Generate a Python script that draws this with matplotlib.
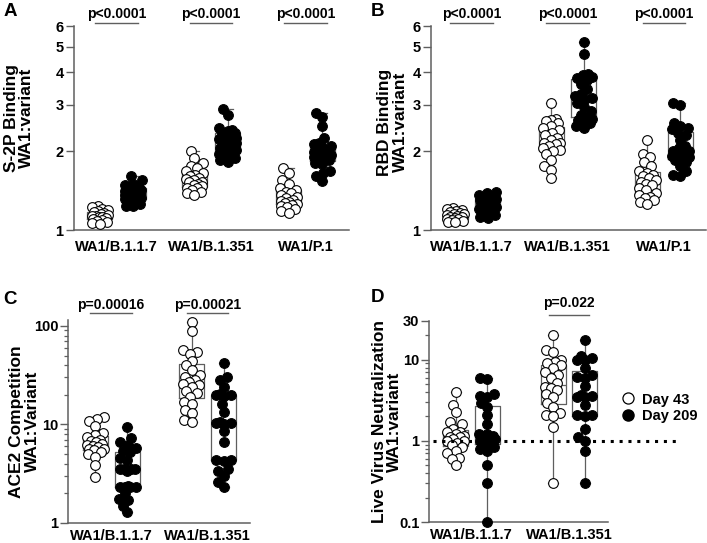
import numpy as np
import matplotlib
matplotlib.use('Agg')
import matplotlib.pyplot as plt
from matplotlib.lines import Line2D
from matplotlib.ticker import FixedLocator, FixedFormatter, LogLocator, NullFormatter
import matplotlib.transforms as mtransforms

plt.rcParams['font.family'] = ['Liberation Sans', 'DejaVu Sans']
plt.rcParams['font.weight'] = 'bold'

# ---------------- data ----------------
variants_abc = ['WA1/B.1.1.7', 'WA1/B.1.351', 'WA1/P.1']
variants_d = ['WA1/B.1.1.7', 'WA1/B.1.351']
legend_labels = ['Day 43', 'Day 209']

# Panel A: S-2P binding
s2p_d43_b117 = [1.24, 1.22, 1.2, 1.19, 1.18, 1.17, 1.16, 1.15, 1.14, 1.13, 1.13, 1.12, 1.12, 1.11, 1.1, 1.09, 1.08, 1.07, 1.06, 1.05]
s2p_d209_b117 = [1.6, 1.55, 1.5, 1.48, 1.47, 1.45, 1.44, 1.42, 1.41, 1.4, 1.39, 1.38, 1.37, 1.36, 1.35, 1.34, 1.33, 1.32, 1.31, 1.3, 1.28, 1.26, 1.24, 1.23]
s2p_d43_b1351 = [2.0, 1.88, 1.8, 1.75, 1.72, 1.68, 1.65, 1.62, 1.6, 1.58, 1.56, 1.55, 1.53, 1.52, 1.5, 1.48, 1.47, 1.45, 1.44, 1.42, 1.4, 1.38, 1.36]
s2p_d209_b1351 = [2.9, 2.75, 2.45, 2.4, 2.38, 2.35, 2.33, 2.3, 2.28, 2.25, 2.22, 2.2, 2.18, 2.15, 2.1, 2.05, 2.02, 2.0, 1.97, 1.95, 1.9, 1.88, 1.85, 1.82]
s2p_d43_p1 = [1.73, 1.65, 1.55, 1.5, 1.45, 1.42, 1.4, 1.38, 1.36, 1.34, 1.32, 1.3, 1.29, 1.28, 1.27, 1.26, 1.25, 1.24, 1.22, 1.2, 1.18, 1.16]
s2p_d209_p1 = [2.8, 2.7, 2.5, 2.25, 2.15, 2.12, 2.1, 2.08, 2.05, 2.02, 2.0, 1.98, 1.96, 1.94, 1.92, 1.9, 1.88, 1.85, 1.8, 1.78, 1.68, 1.65, 1.6, 1.54]

# Panel B: RBD binding
rbd_d43_b117 = [1.21, 1.2, 1.19, 1.18, 1.17, 1.16, 1.15, 1.15, 1.14, 1.13, 1.12, 1.12, 1.11, 1.1, 1.1, 1.09, 1.08, 1.07, 1.07]
rbd_d209_b117 = [1.4, 1.38, 1.36, 1.35, 1.33, 1.32, 1.31, 1.3, 1.29, 1.28, 1.27, 1.26, 1.25, 1.24, 1.23, 1.22, 1.2, 1.18, 1.16, 1.14, 1.12, 1.11]
rbd_d43_b1351 = [3.05, 2.65, 2.62, 2.6, 2.55, 2.5, 2.45, 2.4, 2.35, 2.3, 2.25, 2.2, 2.15, 2.15, 2.12, 2.1, 2.05, 2.02, 2.0, 1.95, 1.85, 1.75, 1.7, 1.58]
rbd_d209_b1351 = [5.2, 4.7, 3.95, 3.9, 3.85, 3.8, 3.75, 3.6, 3.45, 3.3, 3.25, 3.2, 3.15, 3.05, 2.95, 2.85, 2.75, 2.7, 2.65, 2.62, 2.6, 2.55, 2.5, 2.45]
rbd_d43_p1 = [2.2, 1.95, 1.9, 1.82, 1.75, 1.68, 1.65, 1.62, 1.6, 1.58, 1.55, 1.52, 1.5, 1.48, 1.45, 1.42, 1.38, 1.36, 1.34, 1.32, 1.3, 1.28, 1.26]
rbd_d209_p1 = [3.05, 3.0, 2.55, 2.5, 2.45, 2.42, 2.35, 2.3, 2.2, 2.1, 2.05, 2.0, 2.0, 1.98, 1.95, 1.92, 1.9, 1.88, 1.85, 1.82, 1.75, 1.68, 1.62, 1.6]

# Panel C: ACE2 competition
ace2_d43_b117 = [12.0, 11.5, 10.8, 9.6, 8.2, 7.8, 7.4, 7.0, 6.8, 6.6, 6.4, 6.2, 6.0, 5.9, 5.7, 5.6, 5.5, 5.3, 5.0, 4.7, 3.9, 2.95]
ace2_d209_b117 = [9.4, 7.3, 6.6, 6.2, 5.8, 5.4, 5.2, 4.6, 4.4, 3.5, 3.5, 3.5, 3.5, 3.4, 2.4, 2.3, 2.3, 2.3, 2.3, 2.0, 1.75, 1.7, 1.5, 1.3]
ace2_d43_b1351 = [110, 88, 57, 55, 52, 44, 40, 36, 32, 30, 28, 27, 26, 25, 24, 22, 21, 19, 17, 16, 14, 13, 11, 10.7]
ace2_d209_b1351 = [42, 30, 28, 24, 20.5, 20, 20, 19.5, 16, 13.5, 10.5, 10.4, 10.3, 10.2, 8.5, 6.7, 4.4, 4.4, 4.3, 3.5, 3.4, 3.0, 2.6, 2.3]

# Panel D: live virus neutralization
neut_d43_b117 = [4.0, 2.8, 2.3, 1.7, 1.6, 1.4, 1.3, 1.3, 1.2, 1.15, 1.1, 1.1, 1.05, 1.0, 1.0, 0.95, 0.9, 0.85, 0.75, 0.7, 0.62, 0.6, 0.5]
neut_d209_b117 = [5.9, 5.8, 3.8, 3.6, 3.5, 2.9, 2.6, 2.1, 1.6, 1.2, 1.2, 1.15, 1.1, 1.1, 1.1, 1.05, 1.0, 0.95, 0.85, 0.8, 0.75, 0.5, 0.3, 0.1]
neut_d43_b1351 = [20, 13, 12.5, 10, 9.5, 9, 8.5, 8, 7, 6.5, 6, 5.2, 4.6, 4.5, 4.2, 3.8, 3.5, 2.9, 2.6, 2.2, 2.1, 2.0, 1.5, 0.3]
neut_d209_b1351 = [17.7, 11, 10.5, 10, 10, 8, 6.5, 6.2, 6.0, 4.7, 3.7, 3.6, 3.5, 3.5, 2.8, 2.1, 2.1, 2.0, 1.4, 1.1, 1.0, 0.74, 0.3]

pvals_a = ['p<0.0001', 'p<0.0001', 'p<0.0001']
pvals_b = ['p<0.0001', 'p<0.0001', 'p<0.0001']
pvals_c = ['p=0.00016', 'p=0.00021']
pvals_d = [None, 'p=0.022']

# ---------------- style ----------------
W, H = 707, 543
fig = plt.figure(figsize=(W / 100, H / 100), dpi=100)
GRAY = '#5f5f5f'
MS = 7.0  # marker size in points
PX = 0.72  # points per pixel


def px_axes(left, top, right, bottom):
    return fig.add_axes([left / W, 1 - bottom / H, (right - left) / W, (bottom - top) / H])


def swarm(ax, values, center, d=7.5, maxoff=8.5):
    vals = np.asarray(values, float)
    pts = ax.transData.transform(np.column_stack([np.full(len(vals), center), vals]))
    xc = pts[0, 0]
    ys = pts[:, 1]
    order = np.argsort(ys)
    cands = np.arange(-maxoff, maxoff + 0.01, 0.5)
    cands = cands[np.argsort(np.abs(cands), kind='stable')]
    placed = []
    offs = np.zeros(len(vals))
    for i in order:
        y = ys[i]
        best, bestd = 0.0, -1
        for off in cands:
            if placed:
                md = min(np.hypot(off - px, y - py) for px, py in placed)
            else:
                md = 1e9
            if md >= d:
                best = off
                break
            if md > bestd + 0.3:
                best, bestd = off, md
        placed.append((best, y))
        offs[i] = best
    inv = ax.transData.inverted()
    return inv.transform(np.column_stack([xc + offs, ys]))[:, 0]


def panel(ax, d43, d209, labels, pvals, ylim, xlim, spacing, off, major, majlabels,
          minor=False, text_up=12, line_up=3, xpad=6, ticklen=5.5):
    ax.set_yscale('log')
    ax.set_ylim(*ylim)
    ax.set_xlim(*xlim)
    for s in ['top', 'right']:
        ax.spines[s].set_visible(False)
    for s in ['left', 'bottom']:
        ax.spines[s].set_color(GRAY)
        ax.spines[s].set_linewidth(1.1)
    ax.yaxis.set_major_locator(FixedLocator(major))
    ax.yaxis.set_major_formatter(FixedFormatter(majlabels))
    if minor:
        ax.yaxis.set_minor_locator(LogLocator(base=10, subs=np.arange(2, 10)))
    else:
        ax.yaxis.set_minor_locator(FixedLocator([]))
    ax.yaxis.set_minor_formatter(NullFormatter())
    ax.tick_params(axis='y', which='major', length=ticklen, width=1.0, color=GRAY,
                   labelsize=10.5, pad=1.5)
    ax.tick_params(axis='y', which='minor', length=3, width=0.9, color=GRAY)
    ax.set_xticks(range(len(labels)))
    ax.set_xticklabels(labels)
    ax.tick_params(axis='x', length=0, labelsize=10.5, pad=xpad)

    boxw = 25 / spacing
    capw = 10 / spacing
    for i in range(len(labels)):
        for j, (data, face) in enumerate([(d43[i], 'white'), (d209[i], 'black')]):
            pos = i - off if j == 0 else i + off
            ax.boxplot([data], positions=[pos], widths=boxw, whis=(0, 100),
                       showfliers=False, capwidths=capw, manage_ticks=False,
                       boxprops=dict(color=GRAY, linewidth=0.9),
                       whiskerprops=dict(color=GRAY, linewidth=0.9),
                       capprops=dict(color=GRAY, linewidth=0.9),
                       medianprops=dict(color=GRAY, linewidth=0.9), zorder=1)
            xs = swarm(ax, data, pos)
            ax.scatter(xs, data, s=MS ** 2, facecolor=face, edgecolor='black',
                       linewidth=0.8, zorder=3, clip_on=False)
        p = pvals[i]
        if p:
            trans = mtransforms.blended_transform_factory(ax.transData, ax.transAxes)
            lt = mtransforms.offset_copy(trans, fig=fig, y=line_up * PX, units='points')
            ax.plot([i - off - 0.05, i + off + 0.05], [1, 1], transform=lt,
                    color=GRAY, lw=1.0, clip_on=False)
            ax.text(i, 1, p, transform=mtransforms.offset_copy(trans, fig=fig, y=text_up * PX,
                                                                units='points'),
                    ha='center', va='center', fontsize=10, fontweight='bold')


# Panel A
axA = px_axes(74, 26, 349, 230)
panel(axA, [s2p_d43_b117, s2p_d43_b1351, s2p_d43_p1],
      [s2p_d209_b117, s2p_d209_b1351, s2p_d209_p1], variants_abc, pvals_a,
      (1, 6), (-0.45, 2.46), 94.5, 0.175, [1, 2, 3, 4, 5, 6], ['1', '2', '3', '4', '5', '6'],
      xpad=7, ticklen=6)

# Panel B
axB = px_axes(431, 26, 706, 230)
panel(axB, [rbd_d43_b117, rbd_d43_b1351, rbd_d43_p1],
      [rbd_d209_b117, rbd_d209_b1351, rbd_d209_p1], variants_abc, pvals_b,
      (1, 6), (-0.42, 2.44), 96.25, 0.17, [1, 2, 3, 4, 5, 6], ['1', '2', '3', '4', '5', '6'],
      xpad=7, ticklen=6)

# Panel C
axC = px_axes(68, 320, 250, 523)
panel(axC, [ace2_d43_b117, ace2_d43_b1351], [ace2_d209_b117, ace2_d209_b1351],
      variants_d, pvals_c, (1, 115), (-0.446, 1.44), 96.5, 0.166,
      [1, 10, 100], ['1', '10', '100'], minor=True, text_up=15, line_up=7, xpad=4)

# Panel D
axD = px_axes(429, 321, 608, 522)
panel(axD, [neut_d43_b117, neut_d43_b1351], [neut_d209_b117, neut_d209_b1351],
      variants_d, pvals_d, (0.1, 30), (-0.436, 1.40), 97.5, 0.16,
      [0.1, 1, 10, 30], ['0.1', '1', '10', '30'], minor=True, text_up=18, line_up=6, xpad=4)
dtrans = mtransforms.blended_transform_factory(axD.transAxes, axD.transData)
axD.plot([0.02, 1.39], [1, 1], transform=dtrans, color='black', lw=2.2,
         linestyle=(0, (1, 1.9)), clip_on=False, zorder=4)

# y labels
ylab = [(axA, 'S-2P Binding\nWA1:variant', -0.20, 0.55),
        (axB, 'RBD Binding\nWA1:variant', -0.14, 0.53),
        (axC, 'ACE2 Competition\nWA1:Variant', -0.24, 0.50),
        (axD, 'Live Virus Neutralization\nWA1:variant', -0.235, 0.50)]
for ax, t, x, y in ylab:
    ax.text(x, y, t, transform=ax.transAxes, rotation=90, ha='center', va='center',
            fontsize=12.5, fontweight='bold', linespacing=1.05)

# panel letters
for letter, x, y in [('A', 10, 12), ('B', 378, 12), ('C', 10, 300), ('D', 378, 298)]:
    fig.text(x / W, 1 - y / H, letter, ha='center', va='center', fontsize=13.5,
             fontweight='bold')

# legend
handles = [Line2D([], [], marker='o', linestyle='none', markersize=MS + 1,
                  markerfacecolor='white', markeredgecolor='black', markeredgewidth=0.9),
           Line2D([], [], marker='o', linestyle='none', markersize=MS + 1,
                  markerfacecolor='black', markeredgecolor='black')]
fig.legend(handles, legend_labels, loc='center left', bbox_to_anchor=(620.5 / W, 1 - 408 / H),
           frameon=False, borderpad=0, borderaxespad=0, handlelength=1.0,
           handletextpad=0.5, labelspacing=0.2, prop=dict(size=10.5, weight='bold'))

fig.savefig('out.png', dpi=100)
